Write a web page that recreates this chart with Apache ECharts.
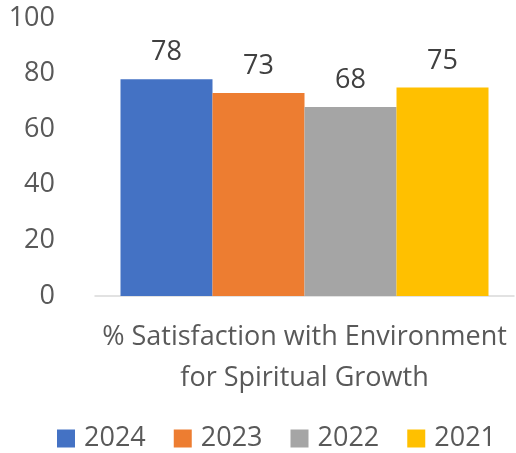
<!DOCTYPE html>
<html>
<head>
<meta charset="utf-8">
<script src="https://cdn.jsdelivr.net/npm/echarts@6/dist/echarts.min.js"></script>
<style>
  html, body { margin: 0; padding: 0; background: #fff; }
  #chart { width: 516px; height: 453px; }
</style>
</head>
<body>
<div id="chart"></div>
<script>
var categories = ['% Satisfaction with Environment\nfor Spiritual Growth'];
var years = ['2024', '2023', '2022', '2021'];
var values = [78, 73, 68, 75];
var colors = ['#4472C4', '#ED7D31', '#A5A5A5', '#FFC000'];
var yTicks = [0, 20, 40, 60, 80, 100];

var font = '"Open Sans", "Liberation Sans", sans-serif';
var chart = echarts.init(document.getElementById('chart'));

var series = [];
for (var i = 0; i < years.length; i++) {
    series.push({
        name: years[i],
        type: 'bar',
        data: [values[i]],
        barWidth: 92,
        barGap: '0%',
        itemStyle: { color: colors[i] },
        label: {
            show: true,
            position: 'top',
            distance: 13,
            color: '#404040',
            fontSize: 27,
            fontFamily: font
        }
    });
}

var option = {
    animation: false,
    color: colors,
    grid: { left: 95, right: 2, top: 18, bottom: 157, containLabel: false },
    legend: {
        data: years,
        bottom: -4,
        left: 52,
        itemWidth: 18,
        itemHeight: 18,
        itemGap: 28,
        icon: 'rect',
        textStyle: { color: '#595959', fontSize: 27, fontFamily: font, padding: [0, 0, 0, 4] }
    },
    xAxis: {
        type: 'category',
        data: categories,
        axisLine: { lineStyle: { color: '#D9D9D9', width: 1.5 } },
        axisTick: { show: false },
        axisLabel: {
            color: '#595959',
            fontSize: 27,
            fontFamily: font,
            lineHeight: 41,
            margin: 21
        }
    },
    yAxis: {
        type: 'value',
        min: yTicks[0],
        max: yTicks[yTicks.length - 1],
        interval: 20,
        splitLine: { show: false },
        axisLine: { show: false },
        axisTick: { show: false },
        axisLabel: {
            color: '#595959',
            fontSize: 27,
            fontFamily: font,
            margin: 40
        }
    },
    series: series
};

chart.setOption(option);
window.onresize = chart.resize;
</script>
</body>
</html>
